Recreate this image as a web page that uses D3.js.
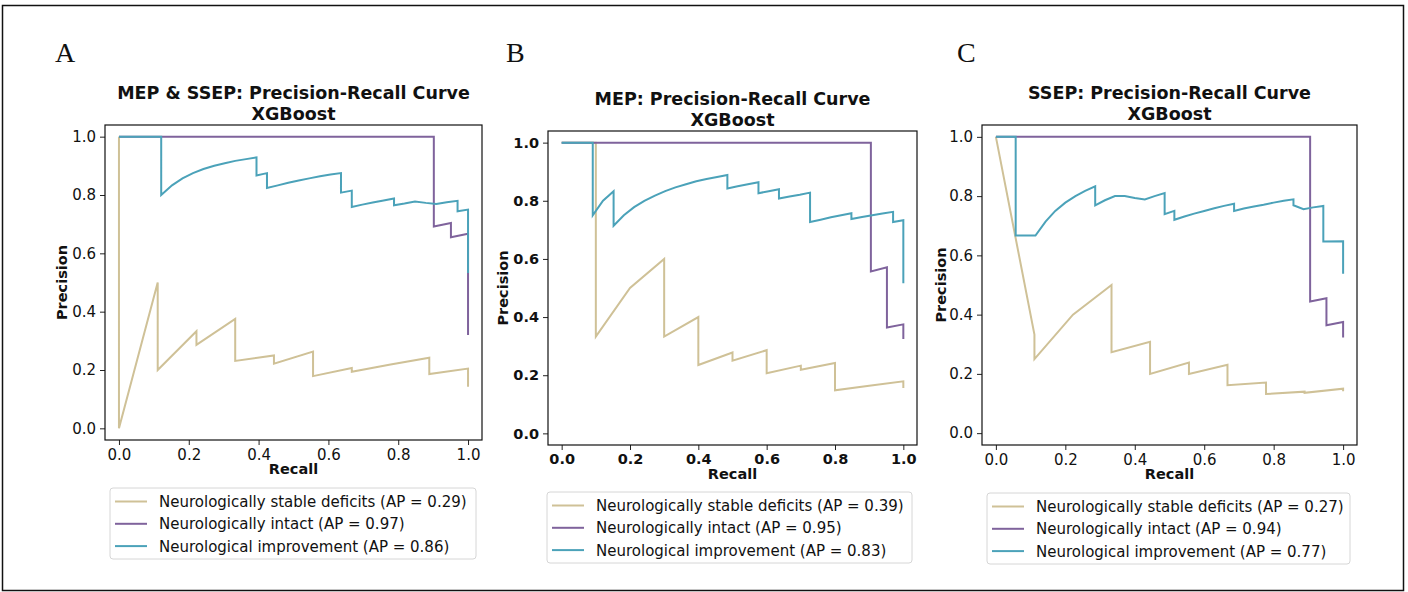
<!DOCTYPE html>
<html lang="en">
<head>
<meta charset="UTF-8">
<title>Precision-Recall curves</title>
<script src="https://d3js.org/d3.v7.min.js"></script>
<style>
  body { margin: 0; background: #fff; }
  svg text { font-family: "DejaVu Sans", sans-serif; fill: #111; }
  .letter { font-family: "Liberation Serif", "Times New Roman", serif; }
</style>
</head>
<body>
<script>
// --- data: [recall, precision] points ---
const seriesNames = ["Neurologically stable deficits", "Neurologically intact", "Neurological improvement"];
const seriesColors = ["#cfc197", "#7f639c", "#4ba2b9"];
const tickValues = [0, 0.2, 0.4, 0.6, 0.8, 1.0];

const aStable = [[0,1],[0,0],[0.111,0.5],[0.111,0.2],[0.222,0.333],[0.222,0.286],[0.333,0.375],[0.333,0.231],
  [0.444,0.25],[0.444,0.222],[0.556,0.263],[0.556,0.179],[0.667,0.207],[0.667,0.194],[0.778,0.219],[0.889,0.242],
  [0.889,0.186],[1,0.205],[1,0.143]];
const aIntact = [[0,1],[0.902,1],[0.902,0.692],[0.951,0.704],[0.951,0.655],[1,0.667],[1,0.32]];
const aImprove = [[0,1],[0.121,1],[0.121,0.8],[0.152,0.833],[0.182,0.857],[0.212,0.875],[0.242,0.889],[0.273,0.9],
  [0.303,0.909],[0.333,0.917],[0.364,0.923],[0.394,0.929],[0.394,0.867],[0.424,0.875],[0.424,0.824],[0.455,0.833],
  [0.485,0.842],[0.515,0.85],[0.545,0.857],[0.576,0.864],[0.606,0.87],[0.636,0.875],[0.636,0.808],[0.667,0.815],
  [0.667,0.759],[0.697,0.767],[0.727,0.774],[0.758,0.781],[0.788,0.788],[0.788,0.765],[0.818,0.771],[0.848,0.778],
  [0.879,0.773],[0.909,0.769],[0.939,0.775],[0.97,0.78],[0.97,0.744],[1,0.75],[1,0.533]];
const aAP = [0.29, 0.97, 0.86];

const bStable = [[0,1],[0.1,1],[0.1,0.333],[0.2,0.5],[0.3,0.6],[0.3,0.333],[0.4,0.4],[0.4,0.235],[0.5,0.278],
  [0.5,0.25],[0.6,0.286],[0.6,0.207],[0.7,0.233],[0.7,0.219],[0.8,0.242],[0.8,0.148],[0.9,0.164],[1,0.179],[1,0.156]];
const bIntact = [[0,1],[0.905,1],[0.905,0.557],[0.952,0.571],[0.952,0.364],[1,0.375],[1,0.325]];
const bImprove = [[0,1],[0.091,1],[0.091,0.75],[0.121,0.8],[0.152,0.833],[0.152,0.714],[0.182,0.75],[0.212,0.778],
  [0.242,0.8],[0.273,0.818],[0.303,0.833],[0.333,0.846],[0.364,0.857],[0.394,0.867],[0.424,0.875],[0.455,0.882],
  [0.485,0.889],[0.485,0.842],[0.515,0.85],[0.545,0.857],[0.576,0.864],[0.576,0.826],[0.606,0.833],[0.636,0.84],
  [0.636,0.808],[0.667,0.815],[0.697,0.821],[0.727,0.828],[0.727,0.727],[0.758,0.735],[0.788,0.743],[0.818,0.75],
  [0.848,0.757],[0.848,0.737],[0.879,0.744],[0.909,0.75],[0.939,0.756],[0.97,0.762],[0.97,0.727],[1,0.733],[1,0.516]];
const bAP = [0.39, 0.95, 0.83];

const cStable = [[0,1],[0.111,0.333],[0.111,0.25],[0.222,0.4],[0.333,0.5],[0.333,0.273],[0.444,0.308],[0.444,0.2],
  [0.556,0.238],[0.556,0.2],[0.667,0.231],[0.667,0.162],[0.778,0.171],[0.778,0.132],[0.889,0.14],[0.889,0.136],
  [1,0.15],[1,0.141]];
const cIntact = [[0,1],[0.905,1],[0.905,0.444],[0.952,0.455],[0.952,0.364],[1,0.375],[1,0.323]];
const cImprove = [[0,1],[0.057,1],[0.057,0.667],[0.114,0.667],[0.143,0.714],[0.171,0.75],[0.2,0.778],[0.229,0.8],
  [0.257,0.818],[0.286,0.833],[0.286,0.769],[0.314,0.786],[0.343,0.8],[0.371,0.8],[0.4,0.794],[0.429,0.789],
  [0.457,0.8],[0.486,0.81],[0.486,0.739],[0.514,0.75],[0.514,0.72],[0.543,0.731],[0.571,0.741],[0.6,0.75],
  [0.629,0.759],[0.657,0.767],[0.686,0.774],[0.686,0.75],[0.714,0.758],[0.743,0.765],[0.771,0.771],[0.8,0.778],
  [0.829,0.784],[0.857,0.789],[0.857,0.769],[0.886,0.756],[0.914,0.762],[0.943,0.767],[0.943,0.647],[1,0.648],[1,0.538]];
const cAP = [0.27, 0.94, 0.77];

// --- layout of the three panels ---
const panels = [
  { letter: "A", lx: 55, title: "MEP & SSEP: Precision-Recall Curve", left: 105, right: 482, top: 125, bottom: 440,
    titleSize: 17.5, bold: false, tickSize: 15, labelOff: 38, series: [aStable, aIntact, aImprove], ap: aAP,
    leg: { x: 110, y: 488, w: 366, h: 71 } },
  { letter: "B", lx: 506, title: "MEP: Precision-Recall Curve", left: 548, right: 917, top: 131, bottom: 445,
    titleSize: 17.5, bold: true, tickSize: 14.5, labelOff: 40, series: [bStable, bIntact, bImprove], ap: bAP,
    leg: { x: 547, y: 492, w: 365, h: 71 } },
  { letter: "C", lx: 957, title: "SSEP: Precision-Recall Curve", left: 982, right: 1357, top: 125, bottom: 445,
    titleSize: 17.5, bold: false, tickSize: 15, labelOff: 36, series: [cStable, cIntact, cImprove], ap: cAP,
    leg: { x: 987, y: 493, w: 363, h: 71 } }
];

const W = 1408, H = 592;
const svg = d3.select("body").append("svg").attr("width", W).attr("height", H);

svg.append("rect").attr("width", W).attr("height", H).attr("fill", "#fff");
// outer frame
svg.append("rect")
  .attr("x", 2.5).attr("y", 5.5).attr("width", 1401).attr("height", 585)
  .attr("fill", "none").attr("stroke", "#111").attr("stroke-width", 1.5);

panels.forEach(function (p) {
  const g = svg.append("g");

  const x = d3.scaleLinear().domain([-0.04, 1.04]).range([p.left, p.right]);
  const y = d3.scaleLinear().domain([-0.04, 1.04]).range([p.bottom, p.top]);
  const cx = (p.left + p.right) / 2;
  const tickWeight = p.bold ? "bold" : "normal";

  // panel letter
  g.append("text").attr("class", "letter")
    .attr("x", p.lx).attr("y", 62)
    .style("font-size", "28px")
    .text(p.letter);

  // title, two lines
  g.append("text")
    .attr("x", cx).attr("y", p.top - 26)
    .attr("text-anchor", "middle")
    .style("font-size", p.titleSize + "px").style("font-weight", "bold")
    .text(p.title);
  g.append("text")
    .attr("x", cx).attr("y", p.top - 5.5)
    .attr("text-anchor", "middle")
    .style("font-size", p.titleSize + "px").style("font-weight", "bold")
    .text("XGBoost");

  // curves
  const line = d3.line().x(d => x(d[0])).y(d => y(d[1]));
  p.series.forEach(function (s, i) {
    g.append("path")
      .datum(s)
      .attr("d", line)
      .attr("fill", "none")
      .attr("stroke", seriesColors[i])
      .attr("stroke-width", 2);
  });

  // axes
  const xAxis = d3.axisBottom(x).tickValues(tickValues).tickFormat(d3.format(".1f")).tickSize(5).tickPadding(4);
  const yAxis = d3.axisLeft(y).tickValues(tickValues).tickFormat(d3.format(".1f")).tickSize(5).tickPadding(4);

  const gx = g.append("g").attr("transform", `translate(0,${p.bottom})`).call(xAxis);
  const gy = g.append("g").attr("transform", `translate(${p.left},0)`).call(yAxis);
  [gx, gy].forEach(function (a) {
    a.select(".domain").remove();
    a.selectAll("line").attr("stroke", "#222");
    a.selectAll("text")
      .style("font-family", "DejaVu Sans, sans-serif")
      .style("font-size", p.tickSize + "px")
      .style("font-weight", tickWeight)
      .attr("fill", "#111");
  });

  // frame of the axes
  g.append("rect")
    .attr("x", p.left).attr("y", p.top)
    .attr("width", p.right - p.left).attr("height", p.bottom - p.top)
    .attr("fill", "none").attr("stroke", "#111").attr("stroke-width", 1.2);

  // axis labels
  g.append("text")
    .attr("x", cx).attr("y", p.bottom + 34)
    .attr("text-anchor", "middle")
    .style("font-size", "14.5px").style("font-weight", "bold")
    .text("Recall");
  g.append("text")
    .attr("transform", `translate(${p.left - p.labelOff},${(p.top + p.bottom) / 2}) rotate(-90)`)
    .attr("text-anchor", "middle")
    .style("font-size", "14.5px").style("font-weight", "bold")
    .text("Precision");

  // legend
  const L = p.leg;
  const lg = g.append("g").attr("transform", `translate(${L.x},${L.y})`);
  lg.append("rect")
    .attr("width", L.w).attr("height", L.h).attr("rx", 3)
    .attr("fill", "#fff").attr("stroke", "#d6d6d6").attr("stroke-width", 1);
  seriesNames.forEach(function (name, i) {
    const ry = 13.5 + i * 22.3;
    lg.append("line")
      .attr("x1", 5).attr("x2", 37).attr("y1", ry).attr("y2", ry)
      .attr("stroke", seriesColors[i]).attr("stroke-width", 2);
    lg.append("text")
      .attr("x", 49).attr("y", ry + 5.5)
      .style("font-size", "15px")
      .text(`${name} (AP = ${p.ap[i].toFixed(2)})`);
  });
});
</script>
</body>
</html>
